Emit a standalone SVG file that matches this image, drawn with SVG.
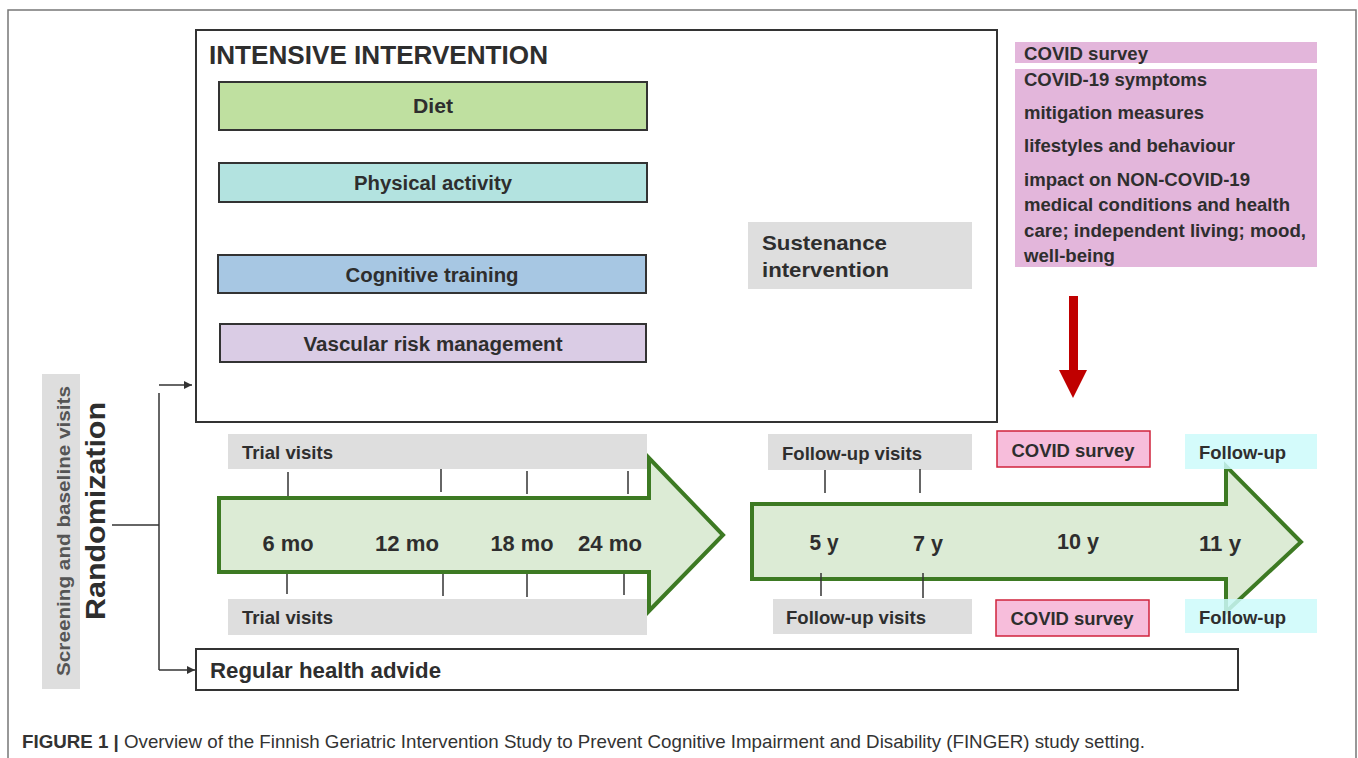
<svg xmlns="http://www.w3.org/2000/svg" width="1358" height="758" viewBox="0 0 1358 758">
<defs>
<style>
text{font-family:"Liberation Sans",Arial,sans-serif;font-weight:bold;fill:#2e2e2e;}
.lbl{font-size:20px;}
.pk{font-size:19px;}
.tl{font-size:22px;}
.box{stroke:#333;stroke-width:2;}
.ln{stroke:#333;stroke-width:1.5;fill:none;}
.tick{stroke:#333;stroke-width:1.5;}
.gray{fill:#dedede;}
.big{fill:#dcebd5;stroke:#3d7a23;stroke-width:4;stroke-linejoin:miter;}
.cs{fill:#f7bddb;stroke:#d0233c;stroke-width:1.5;}
.fu{fill:#cdfafa;opacity:0.85;}
</style>
<marker id="ah" viewBox="0 0 10 10" refX="10" refY="5" markerWidth="8" markerHeight="8" markerUnits="userSpaceOnUse" orient="auto">
<path d="M0,0 L10,5 L0,10 z" fill="#333"/>
</marker>
</defs>
<rect width="1358" height="758" fill="#fff"/>
<path d="M8,770 L8,10 L1356,10 L1356,770" fill="none" stroke="#777" stroke-width="1.5"/>

<g id="intensive">
<rect x="196" y="30" width="801" height="392" fill="#fff" class="box"/>
<text x="209" y="64" font-size="26" textLength="339" lengthAdjust="spacingAndGlyphs">INTENSIVE INTERVENTION</text>
</g>
<g id="diet">
<rect x="219" y="82" width="428" height="48" fill="#bfe0a0" class="box" stroke-width="1.5"/>
<text class="lbl" x="433" y="113" text-anchor="middle" textLength="40" lengthAdjust="spacingAndGlyphs">Diet</text>
</g>
<g id="physical">
<rect x="219" y="163" width="428" height="39" fill="#b3e3e0" class="box" stroke-width="1.5"/>
<text class="lbl" x="433" y="190" text-anchor="middle" textLength="158" lengthAdjust="spacingAndGlyphs">Physical activity</text>
</g>
<g id="cognitive">
<rect x="218" y="255" width="428" height="38" fill="#a7c7e3" class="box" stroke-width="1.5"/>
<text class="lbl" x="432" y="282" text-anchor="middle" textLength="173" lengthAdjust="spacingAndGlyphs">Cognitive training</text>
</g>
<g id="vascular">
<rect x="220" y="324" width="426" height="38" fill="#dacce5" class="box" stroke-width="1.5"/>
<text class="lbl" x="433" y="351" text-anchor="middle" textLength="259" lengthAdjust="spacingAndGlyphs">Vascular risk management</text>
</g>
<g id="sustenance">
<rect x="748" y="222" width="224" height="67" class="gray"/>
<text x="762" y="250" font-size="21" textLength="125" lengthAdjust="spacingAndGlyphs">Sustenance</text>
<text x="762" y="277" font-size="21" textLength="127" lengthAdjust="spacingAndGlyphs">intervention</text>
</g>
<g id="covid-header">
<rect x="1015" y="42" width="302" height="21" fill="#e3b6db"/>
<text class="pk" x="1024" y="60" textLength="124" lengthAdjust="spacingAndGlyphs">COVID survey</text>
</g>
<g id="covid-content">
<rect x="1015" y="69" width="302" height="198" fill="#e3b6db"/>
<text class="pk" x="1024" y="86" textLength="183" lengthAdjust="spacingAndGlyphs">COVID-19 symptoms</text>
<text class="pk" x="1024" y="119" textLength="180" lengthAdjust="spacingAndGlyphs">mitigation measures</text>
<text class="pk" x="1024" y="152" textLength="211" lengthAdjust="spacingAndGlyphs">lifestyles and behaviour</text>
<text class="pk" x="1024" y="186" textLength="226" lengthAdjust="spacingAndGlyphs">impact on NON-COVID-19</text>
<text class="pk" x="1024" y="211" textLength="266" lengthAdjust="spacingAndGlyphs">medical conditions and health</text>
<text class="pk" x="1024" y="237" textLength="282" lengthAdjust="spacingAndGlyphs">care; independent living; mood,</text>
<text class="pk" x="1024" y="262" textLength="91" lengthAdjust="spacingAndGlyphs">well-being</text>
</g>
<g id="red-arrow">
<rect x="1069" y="296" width="9" height="76" fill="#c00000"/>
<path d="M1059,370 L1087,370 L1073,398 z" fill="#c00000"/>
</g>

<g id="screening">
<rect x="42" y="374" width="38" height="315" class="gray"/>
<text transform="translate(70,531) rotate(-90)" text-anchor="middle" font-size="19" style="fill:#555" textLength="290" lengthAdjust="spacingAndGlyphs">Screening and baseline visits</text>
<text transform="translate(105,511) rotate(-90)" text-anchor="middle" font-size="27" textLength="218" lengthAdjust="spacingAndGlyphs">Randomization</text>
</g>

<g id="regular">
<rect x="196" y="649" width="1042" height="41" fill="#fff" class="box"/>
<text x="210" y="678" font-size="22" textLength="231" lengthAdjust="spacingAndGlyphs">Regular health advide</text>
</g>

<g id="connectors">
<line class="ln" x1="112" y1="525" x2="159" y2="525"/>
<line class="ln" x1="159" y1="393" x2="159" y2="670"/>
<line class="ln" x1="159" y1="385" x2="192" y2="385" marker-end="url(#ah)"/>
<line class="ln" x1="159" y1="670" x2="195" y2="670" marker-end="url(#ah)"/>
</g>

<g id="trial-visits-top">
<rect x="228" y="434" width="419" height="35" class="gray"/>
<text x="242" y="459" font-size="19" textLength="91" lengthAdjust="spacingAndGlyphs">Trial visits</text>
</g>
<g id="trial-visits-bottom">
<rect x="228" y="599" width="419" height="36" class="gray"/>
<text x="242" y="624" font-size="19" textLength="91" lengthAdjust="spacingAndGlyphs">Trial visits</text>
</g>

<g id="arrow-trial">
<path class="big" d="M219,498 L649,498 L649,458 L723,535 L649,611 L649,572 L219,572 z"/>
<text class="tl" x="288" y="551" text-anchor="middle" textLength="51" lengthAdjust="spacingAndGlyphs">6 mo</text>
<text class="tl" x="407" y="551" text-anchor="middle" textLength="64" lengthAdjust="spacingAndGlyphs">12 mo</text>
<text class="tl" x="522" y="551" text-anchor="middle" textLength="63" lengthAdjust="spacingAndGlyphs">18 mo</text>
<text class="tl" x="610" y="551" text-anchor="middle" textLength="64" lengthAdjust="spacingAndGlyphs">24 mo</text>
</g>
<g id="trial-ticks">
<line class="tick" x1="288" y1="472" x2="288" y2="496"/>
<line class="tick" x1="441" y1="469" x2="441" y2="492"/>
<line class="tick" x1="527" y1="471" x2="527" y2="494"/>
<line class="tick" x1="628" y1="471" x2="628" y2="494"/>
<line class="tick" x1="287" y1="574" x2="287" y2="594"/>
<line class="tick" x1="443" y1="574" x2="443" y2="596"/>
<line class="tick" x1="527" y1="574" x2="527" y2="597"/>
<line class="tick" x1="624" y1="574" x2="624" y2="595"/>
</g>

<g id="followup-visits-top">
<rect x="768" y="434" width="204" height="36" class="gray"/>
<text x="782" y="460" font-size="19" textLength="140" lengthAdjust="spacingAndGlyphs">Follow-up visits</text>
</g>
<g id="followup-visits-bottom">
<rect x="773" y="599" width="199" height="35" class="gray"/>
<text x="786" y="624" font-size="19" textLength="140" lengthAdjust="spacingAndGlyphs">Follow-up visits</text>
</g>
<g id="covid-survey-top">
<rect x="997" y="431" width="153" height="36" class="cs"/>
<text x="1073" y="457" font-size="19" text-anchor="middle" textLength="123" lengthAdjust="spacingAndGlyphs">COVID survey</text>
</g>
<g id="covid-survey-bottom">
<rect x="996" y="600" width="153" height="36" class="cs"/>
<text x="1072" y="625" font-size="19" text-anchor="middle" textLength="123" lengthAdjust="spacingAndGlyphs">COVID survey</text>
</g>

<g id="arrow-followup">
<path class="big" d="M752,504 L1226,504 L1226,466 L1301,542 L1226,612 L1226,579 L752,579 z"/>
<text class="tl" x="824" y="550" text-anchor="middle" textLength="29" lengthAdjust="spacingAndGlyphs">5 y</text>
<text class="tl" x="928" y="551" text-anchor="middle" textLength="30" lengthAdjust="spacingAndGlyphs">7 y</text>
<text class="tl" x="1078" y="549" text-anchor="middle" textLength="42" lengthAdjust="spacingAndGlyphs">10 y</text>
<text class="tl" x="1220" y="551" text-anchor="middle" textLength="42" lengthAdjust="spacingAndGlyphs">11 y</text>
</g>
<g id="followup-ticks">
<line class="tick" x1="825" y1="470" x2="825" y2="493"/>
<line class="tick" x1="920" y1="469" x2="920" y2="493"/>
<line class="tick" x1="821" y1="573" x2="821" y2="596"/>
<line class="tick" x1="923" y1="573" x2="923" y2="598"/>
</g>

<g id="followup-top">
<rect x="1185" y="434" width="132" height="35" class="fu"/>
<text x="1199" y="459" font-size="19" textLength="87" lengthAdjust="spacingAndGlyphs">Follow-up</text>
</g>
<g id="followup-bottom">
<rect x="1185" y="599" width="132" height="34" class="fu"/>
<text x="1199" y="624" font-size="19" textLength="87" lengthAdjust="spacingAndGlyphs">Follow-up</text>
</g>

<g id="caption">
<text x="22" y="748" font-size="18.5" style="font-weight:normal;fill:#333" textLength="1123" lengthAdjust="spacingAndGlyphs"><tspan style="font-weight:bold">FIGURE 1 |</tspan> Overview of the Finnish Geriatric Intervention Study to Prevent Cognitive Impairment and Disability (FINGER) study setting.</text>
</g>
</svg>
